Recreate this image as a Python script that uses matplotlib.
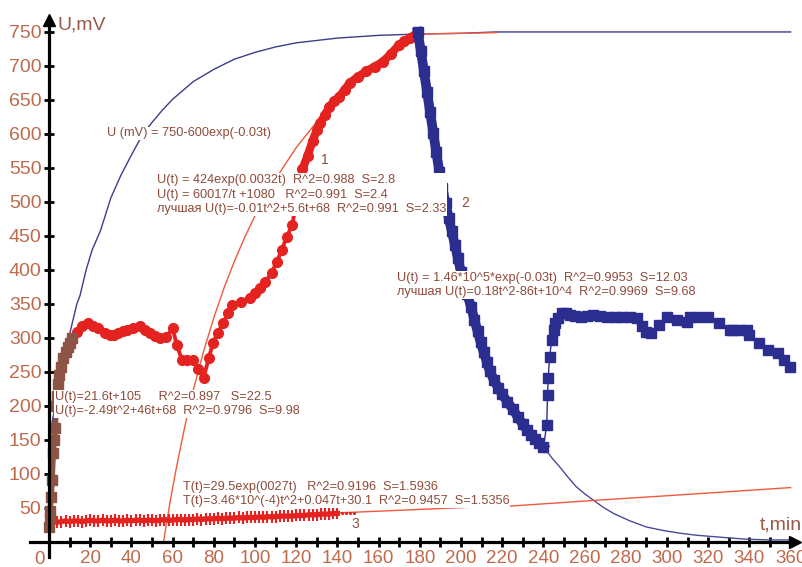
import matplotlib
matplotlib.use("Agg")
import matplotlib.pyplot as plt
from matplotlib.ticker import FixedLocator

plt.rcParams['font.family'] = ['Liberation Sans', 'DejaVu Sans']

# curve 1 - charging (red), t in min, U in mV
t1 = [0, 0.5, 1, 1.5, 2, 2.5, 3, 3.5, 4, 4.5, 5, 6, 7, 8, 9, 10,
      11, 13.4, 16, 19, 21.5, 24, 27, 29.6, 31.5, 33.5, 36, 38, 41, 44, 46.5, 49, 51.5, 54, 57,
      60, 62, 64.5, 67, 70, 72.5, 75, 77.5, 79.6, 82, 84.5, 87, 89, 93, 97.6, 100, 102.5, 105,
      108, 110.5, 113, 115.5, 118, 120.5, 123, 125.5, 128, 130, 131.6, 134, 136, 138.5, 141,
      143.5, 146, 150, 154, 158, 162, 166, 170, 172.5, 175, 177, 179]
u1 = [22, 45, 66, 91, 131, 150, 168, 200, 215, 233, 245, 258, 270, 280, 287, 293,
      300, 309, 318, 322, 318, 314, 308, 304, 305, 307, 310, 312, 314, 317, 312, 307, 303, 300, 302,
      314, 290, 268, 268, 268, 255, 241, 270, 293, 308, 322, 336, 349, 353, 359, 366, 374, 382,
      396, 411, 430, 449, 466, 505, 548, 568, 590, 606, 616, 628, 640, 648, 655,
      665, 675, 684, 692, 699, 706, 718, 731, 736, 741, 744, 750]
n_brown = 17   # first points drawn as brown squares
n_dense1 = 59  # from here on the red points merge into a band

# curve 2 - discharge (blue)
t2 = [179, 180.5, 182, 183.5, 185, 186.5, 188, 189.5, 191, 192.5, 194, 195.5, 197, 198.5, 200,
      201.5, 203, 204.8, 206.5, 208, 209.5, 211, 212.5, 214, 216, 218, 220, 222.5, 225, 227.5,
      230, 232, 234, 236, 238, 240, 241.6, 242, 242.3, 243, 244, 245, 245.6, 247, 249, 251, 253,
      255.5, 258, 261, 264, 267.5, 271, 274.5, 278, 282, 285.5, 288, 290, 292, 296, 300, 305,
      309.7, 311, 315.5, 320, 325, 330.6, 332, 335.5, 339, 340, 344.5, 349, 354, 357, 359.7]
u2 = [750, 722, 692, 662, 632, 602, 573, 544, 520, 498, 477, 457, 437, 417, 397,
      378, 365, 346, 327, 310, 294, 279, 265, 251, 238, 227, 217, 206, 196, 184,
      173, 165, 158, 151, 145, 140, 172, 216, 241, 272, 297, 312, 322, 330, 336, 336, 334,
      333, 331, 333, 334, 332, 331, 331, 331, 331, 330, 318, 309, 307, 319, 331, 327,
      324, 331, 331, 331, 322, 312, 311, 312, 312, 304, 293, 282, 278, 268, 257]
n_dense2 = 36  # descending part is a dense band

# curve 3 - temperature (red, bottom)
t3 = [0, 1, 2, 4, 6, 8, 10, 12, 14, 16, 18, 20, 22, 24, 26, 28, 30, 32, 34, 36, 38, 40, 42,
      44, 46, 48, 50, 52, 54, 56, 58, 60, 62, 64, 66, 68, 70, 72, 74, 76, 78, 80, 82, 84, 86,
      88, 90, 92, 94, 96, 98, 100, 102, 104, 106, 108, 110, 112, 114, 116, 118, 120, 122, 124,
      126, 128, 130, 132, 134, 136, 138, 140]
u3 = [22, 28, 30, 29, 30, 31, 30, 31, 31, 30, 31, 32, 31, 31, 32, 31, 31, 32, 31, 31, 32, 31, 32,
      32, 31, 32, 32, 31, 32, 33, 32, 32, 33, 33, 32, 33, 33, 34, 33, 34, 34, 34, 35, 34, 35,
      35, 35, 36, 35, 36, 36, 36, 37, 36, 37, 37, 37, 38, 38, 38, 38, 39, 39, 39,
      40, 40, 40, 41, 41, 41, 42, 42]
t3_tail = [142, 144, 146, 148]
u3_tail = [42, 43, 42, 43]

# fitted curves
tf_a = [0, 1.5, 3, 4.5, 6, 7.5, 9, 10.5, 12, 13.5, 15, 18, 21, 25, 30, 35, 40, 45, 50, 55, 60,
        70, 80, 90, 100, 110, 120, 140, 160, 180, 200, 217, 250, 300, 360]
uf_a = [150, 176, 201, 226, 249, 271, 292, 312, 331, 350, 362, 400, 430, 458, 506, 540, 569,
        597, 617, 635, 651, 677, 695, 710, 720, 728, 734, 741, 745, 747, 748, 750, 750, 750, 750]

tf_b = [55.6, 57, 59, 62, 66, 70, 75, 80, 85, 90, 95, 100, 110, 120, 130, 140, 150, 160, 170,
        180, 200, 217]
uf_b = [0, 27, 63, 112, 171, 223, 280, 330, 374, 413, 448, 480, 534, 580, 618, 651, 680, 705,
        727, 747, 748, 749]

tf_c = [205, 210, 215, 220, 225, 230, 235, 240, 244, 248, 252, 256, 260, 264, 269, 274, 282,
        290, 298, 306, 314, 322, 330, 339, 350, 360]
uf_c = [340, 290, 245, 212, 190, 170, 153, 140, 124, 110, 95, 81, 71, 62, 51, 42, 31,
        22, 17, 13, 10, 8, 6, 4, 3, 3]

tf_d = [0, 50, 100, 150, 200, 225, 264, 300, 330, 360]
uf_d = [30, 33.5, 38.5, 44, 50.5, 53, 61, 68, 74, 80]

x_ticks = list(range(20, 361, 20))
x_minor = list(range(10, 361, 20))
y_ticks = list(range(50, 751, 50))

red = '#e42320'
blue = '#2c2e8f'
txt = '#8e4b3b'
lab = '#bf6a4c'

fig = plt.figure(figsize=(8.03, 5.67), dpi=100)
ax = fig.add_axes([0, 0, 1, 1])
ax.set_xlim(-23.8, 366)
ax.set_ylim(-36.8, 797)

# thin fitted curves
ax.plot(tf_a, uf_a, color='#3c3c8c', lw=1.0, zorder=2)
ax.plot(tf_b, uf_b, color='#f05a3c', lw=1.0, zorder=2)
ax.plot(tf_c, uf_c, color='#4a4a9a', lw=1.0, zorder=2)
ax.plot(tf_d, uf_d, color='#f05a3c', lw=1.0, zorder=2)

# data
ax.plot(t1, u1, color=red, lw=2.8, marker='o', ms=7, mec=red, mfc=red, zorder=3)
ax.plot(t1[n_dense1:], u1[n_dense1:], color=red, lw=6, solid_capstyle='round', zorder=3)
ax.plot(t1[:n_brown], u1[:n_brown], color='#8b5444', lw=4, marker='s', ms=6.5, zorder=4)
ax.plot(t2, u2, color=blue, lw=1.0, marker='s', ms=7, mec=blue, mfc=blue, zorder=3)
ax.plot(t2[:n_dense2], u2[:n_dense2], color=blue, lw=7, zorder=3)
ax.plot(t3, u3, color=red, lw=3.8, marker='|', ms=8, mew=1.5, zorder=3)
ax.plot(t3_tail, u3_tail, ls='none', marker='.', ms=2.5, color=red, zorder=3)
ax.plot([0.5], [35], ls='none', marker='s', ms=6.5, color='#8b5444', zorder=4)

# axes through the origin with arrows
for s in ['top', 'right']:
    ax.spines[s].set_visible(False)
ax.spines['left'].set_position(('data', 0))
ax.spines['bottom'].set_position(('data', 0))
ax.spines['left'].set_bounds(-22, 768)
ax.spines['bottom'].set_bounds(-9, 362)
for s in ['left', 'bottom']:
    ax.spines[s].set_linewidth(2.3)
    ax.spines[s].set_zorder(5)
ax.plot([0], [768], marker='^', ms=9, color='k', clip_on=False, zorder=6)
ax.plot([362], [0], marker='>', ms=9, color='k', clip_on=False, zorder=6)

ax.xaxis.set_major_locator(FixedLocator(x_ticks))
ax.xaxis.set_minor_locator(FixedLocator(x_minor))
ax.yaxis.set_major_locator(FixedLocator(y_ticks))
ax.tick_params(which='both', direction='inout', length=7, width=2, color='k')
ax.tick_params(axis='x', labelsize=13.5, labelcolor=lab, pad=2)
ax.tick_params(axis='y', labelsize=14, labelcolor=lab, pad=2)
ax.text(-2, -13, '0', ha='right', va='top', fontsize=13.5, color=lab)

ax.text(3.9, 760, 'U,mV', ha='left', va='center', fontsize=14, color='#9a5a4a')
ax.text(345, 25, 't,min', ha='left', va='center', fontsize=14, color='#9a5a4a', clip_on=False)

box = dict(facecolor='white', edgecolor='none', pad=0.5)
fs = 9.2
ls = 1.27
ax.text(28.2, 601, 'U (mV) = 750-600exp(-0.03t)', ha='left', va='center', fontsize=fs,
        color=txt, bbox=box, zorder=7)
ax.text(52.4, 541, 'U(t) = 424exp(0.0032t)  R^2=0.988  S=2.8\n'
        'U(t) = 60017/t +1080   R^2=0.991  S=2.4\n'
        'лучшая U(t)=-0.01t^2+5.6t+68  R^2=0.991  S=2.33',
        ha='left', va='top', fontsize=fs, linespacing=ls, color=txt, bbox=box, zorder=7)
ax.text(169, 397, 'U(t) = 1.46*10^5*exp(-0.03t)  R^2=0.9953  S=12.03\n'
        'лучшая U(t)=0.18t^2-86t+10^4  R^2=0.9969  S=9.68',
        ha='left', va='top', fontsize=fs, linespacing=ls, color=txt, bbox=box, zorder=7)
ax.text(2.9, 222, 'U(t)=21.6t+105     R^2=0.897   S=22.5\n'
        'U(t)=-2.49t^2+46t+68  R^2=0.9796  S=9.98',
        ha='left', va='top', fontsize=fs, linespacing=ls, color=txt, bbox=box, zorder=7)
ax.text(65, 90, 'T(t)=29.5exp(0027t)   R^2=0.9196  S=1.5936\n'
        'T(t)=3.46*10^(-4)t^2+0.047t+30.1  R^2=0.9457  S=1.5356',
        ha='left', va='top', fontsize=fs, linespacing=ls, color=txt, bbox=box, zorder=7)
ax.text(134, 562, '1', ha='center', va='center', fontsize=10, color=txt, zorder=7)
ax.text(202, 499, '2', ha='center', va='center', fontsize=10, color=txt, zorder=7)
ax.text(148.5, 26.5, '3', ha='center', va='center', fontsize=10, color=txt, zorder=7)

fig.savefig('out.png', dpi=100)
